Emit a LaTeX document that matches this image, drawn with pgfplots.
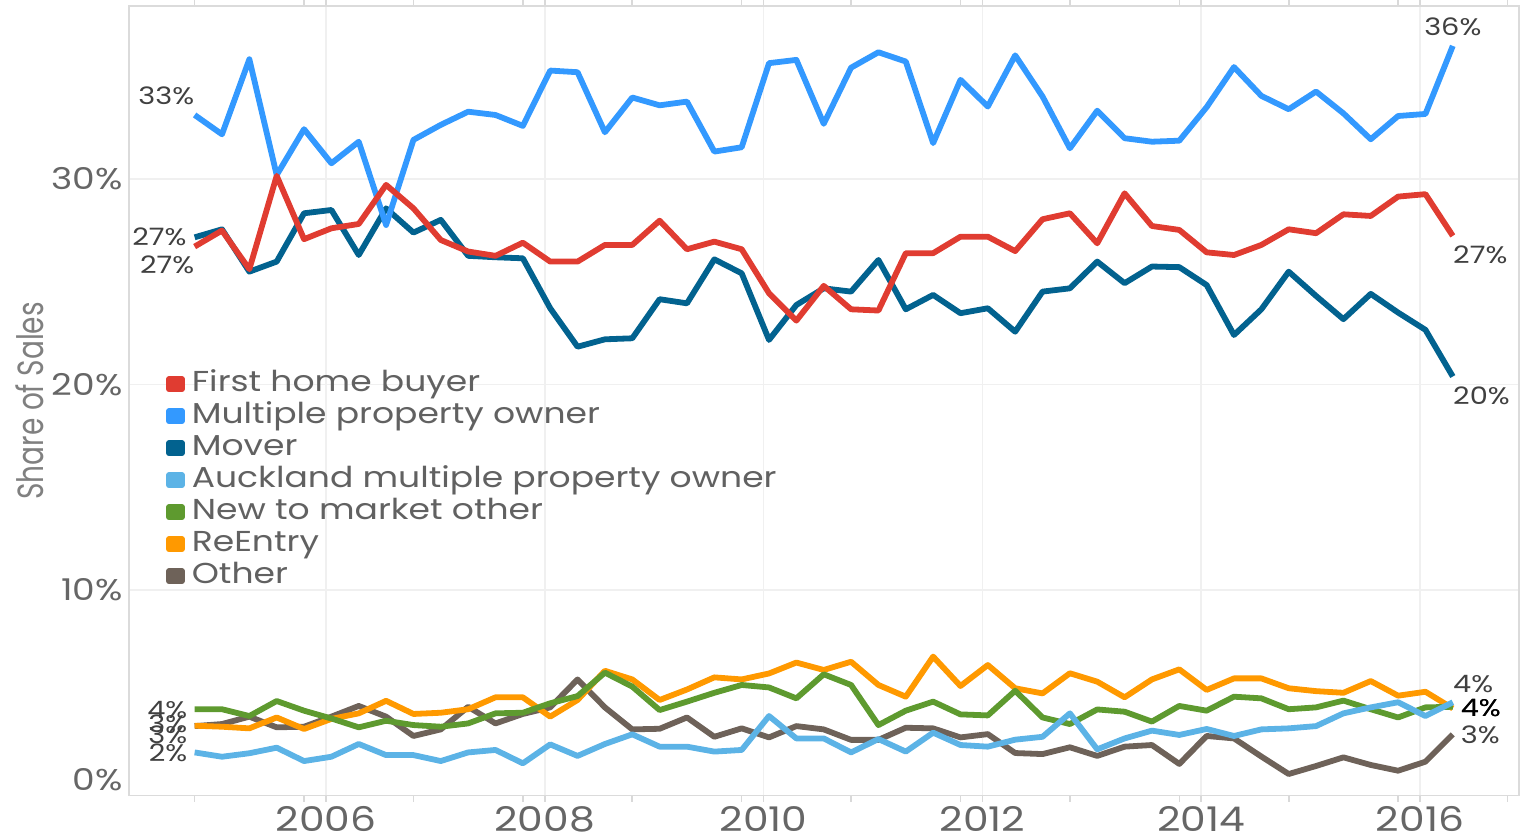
\documentclass[border=0pt]{standalone}
\usepackage{graphicx}
\usepackage{pgfplots}
\pgfplotsset{compat=1.18}
\usepackage{pgfplotstable}
\usepackage{fontspec}
\setmainfont{Poppins}[FakeStretch=1.2]
\newfontfamily\labelfont{Poppins}

\definecolor{cFHB}{HTML}{E03C31}
\definecolor{cMPO}{HTML}{3399FF}
\definecolor{cMOV}{HTML}{02628F}
\definecolor{cAKL}{HTML}{5CB3E6}
\definecolor{cNTM}{HTML}{5E9A2F}
\definecolor{cREE}{HTML}{FF9900}
\definecolor{cOTH}{HTML}{6E6259}

\tikzset{lbl/.style={font=\fontsize{12}{14}\selectfont, text=black!75, inner sep=0pt}}

\pgfplotstableread{
x       fhb   mpo   mov   akl  ntm  ree  oth
2004.80 26.70 33.10 27.15 2.10 4.20 3.40 3.38
2005.05 27.48 32.16 27.54 1.89 4.20 3.35 3.48
2005.30 25.60 35.81 25.48 2.06 3.87 3.27 3.84
2005.55 30.14 30.18 25.97 2.33 4.60 3.80 3.32
2005.80 27.06 32.41 28.32 1.68 4.13 3.24 3.35
2006.05 27.59 30.75 28.48 1.89 3.75 3.73 3.84
2006.30 27.80 31.80 26.29 2.51 3.32 4.00 4.36
2006.55 29.70 27.75 28.56 1.97 3.64 4.61 3.84
2006.80 28.56 31.89 27.38 1.97 3.43 3.97 2.90
2007.05 27.02 32.62 28.00 1.68 3.35 4.03 3.22
2007.30 26.46 33.26 26.25 2.10 3.51 4.20 4.32
2007.55 26.25 33.10 26.18 2.22 4.00 4.78 3.51
2007.80 26.89 32.57 26.13 1.57 4.03 4.78 3.97
2008.05 25.97 35.26 23.70 2.49 4.49 3.84 4.29
2008.30 25.97 35.18 21.83 1.93 4.84 4.65 5.65
2008.55 26.78 32.26 22.19 2.51 5.98 6.07 4.29
2008.80 26.78 33.95 22.24 2.98 5.30 5.65 3.22
2009.05 27.96 33.57 24.14 2.38 4.16 4.65 3.25
2009.30 26.57 33.75 23.94 2.38 4.57 5.16 3.80
2009.55 26.94 31.32 26.08 2.14 5.00 5.75 2.86
2009.80 26.57 31.53 25.40 2.22 5.38 5.65 3.27
2010.05 24.43 35.62 22.16 3.87 5.26 5.94 2.83
2010.30 23.10 35.78 23.86 2.78 4.73 6.47 3.38
2010.55 24.79 32.67 24.67 2.78 5.90 6.11 3.22
2010.80 23.65 35.40 24.51 2.10 5.38 6.51 2.71
2011.05 23.59 36.15 26.05 2.75 3.43 5.38 2.71
2011.30 26.38 35.70 23.65 2.14 4.13 4.81 3.30
2011.55 26.38 31.73 24.35 3.06 4.57 6.76 3.27
2011.80 27.18 34.81 23.46 2.46 3.95 5.33 2.83
2012.05 27.18 33.51 23.70 2.38 3.90 6.35 2.99
2012.30 26.48 36.00 22.56 2.72 5.10 5.22 2.07
2012.55 28.03 34.00 24.51 2.86 3.80 4.97 2.02
2012.80 28.32 31.48 24.67 4.00 3.48 5.95 2.35
2013.05 26.86 33.31 25.97 2.25 4.19 5.54 1.93
2013.30 29.29 31.97 24.92 2.78 4.08 4.78 2.38
2013.55 27.70 31.80 25.73 3.16 3.60 5.65 2.46
2013.80 27.51 31.85 25.70 2.95 4.36 6.14 1.54
2014.05 26.42 33.48 24.83 3.24 4.13 5.14 2.90
2014.30 26.29 35.43 22.40 2.90 4.81 5.70 2.78
2014.55 26.78 34.03 23.65 3.22 4.73 5.70 1.90
2014.80 27.54 33.38 25.48 3.27 4.20 5.22 1.05
2015.05 27.35 34.24 24.30 3.38 4.29 5.08 1.44
2015.30 28.27 33.18 23.17 4.00 4.62 5.00 1.86
2015.55 28.19 31.92 24.40 4.29 4.20 5.57 1.49
2015.80 29.13 33.05 23.49 4.54 3.80 4.86 1.21
2016.05 29.25 33.15 22.65 3.87 4.29 5.05 1.65
2016.30 27.22 36.46 20.38 4.54 4.32 4.24 2.98
}\datatable

\begin{document}
\begin{tikzpicture}
\begin{axis}[
  at={(0pt,0pt)}, anchor=south west,
  scale only axis, width=695pt, height=394.8pt,
  xmin=2004.2, xmax=2016.905, ymin=0, ymax=38.4,
  clip=false,
  axis line style={draw=black!14, line width=0.8pt},
  xtick={2006,2008,2010,2012,2014,2016},
  xticklabels={2006,2008,2010,2012,2014,2016},
  minor xtick={2004.8,2005.8,2006.8,2007.8,2008.8,2009.8,2010.8,2011.8,2012.8,2013.8,2014.8,2015.8,2016.8},
  ytick={10,20,30}, yticklabels={10\%,20\%,30\%},
  extra y ticks={0}, extra y tick labels={0\%},
  extra y tick style={yticklabel style={yshift=7.8pt}, ymajorgrids=false},
  xmajorgrids, ymajorgrids,
  grid style={draw=black!6, line width=0.8pt},
  tick align=outside, major tick length=3pt, minor tick length=3pt,
  xtick style={draw=black!15, line width=0.8pt},
  ytick style={draw=none},
  xticklabel style={font=\fontsize{17}{19}\selectfont, text=black!60, inner sep=0pt, text depth=0pt, yshift=-2.4pt},
  yticklabel style={font=\fontsize{15}{17}\selectfont, text=black!60, inner sep=0pt},
  ylabel={\scalebox{1}[1.3]{\labelfont Share of Sales}},
  ylabel style={at={(axis description cs:-0.0712,0.5)}, anchor=center,
    font=\fontsize{14}{16}\selectfont, text=black!50},
  legend style={at={(axis cs:2004.48,21.0)}, anchor=north west, draw=none, fill=none,
    font=\fontsize{14.4}{16}\selectfont, text=black!62, row sep=0pt,
    nodes={inner sep=1pt, text height=10.5pt, text depth=3.5pt},
    /tikz/every odd column/.append style={column sep=2.5pt}},
  legend cell align=left,
  legend image code/.code={\fill[#1] (0pt,-2.5pt) rectangle (6.5pt,2.5pt);},
  reverse legend,
  every axis plot/.append style={line width=2.9pt, line join=round},
]
\addplot[cOTH] table[x=x,y=oth]{\datatable}; \addlegendentry{Other}
\addplot[cREE] table[x=x,y=ree]{\datatable}; \addlegendentry{ReEntry}
\addplot[cNTM] table[x=x,y=ntm]{\datatable}; \addlegendentry{New to market other}
\addplot[cAKL] table[x=x,y=akl]{\datatable}; \addlegendentry{Auckland multiple property owner}
\addplot[cMOV] table[x=x,y=mov]{\datatable}; \addlegendentry{Mover}
\addplot[cMPO] table[x=x,y=mpo]{\datatable}; \addlegendentry{Multiple property owner}
\addplot[cFHB] table[x=x,y=fhb]{\datatable}; \addlegendentry{First home buyer}

\node[lbl, anchor=east] at (axis cs:2004.80,34.03) {33\%};
\node[lbl, anchor=east] at (axis cs:2004.73,27.17) {27\%};
\node[lbl, anchor=east] at (axis cs:2004.80,25.81) {27\%};
\node[lbl, anchor=east] at (axis cs:2004.736,2.95) {3\%};
\node[lbl, anchor=east] at (axis cs:2004.736,3.48) {3\%};
\node[lbl, anchor=east] at (axis cs:2004.736,4.16) {4\%};
\node[lbl, anchor=east] at (axis cs:2004.736,2.07) {2\%};

\node[lbl, anchor=center] at (axis cs:2016.30,37.38) {36\%};
\node[lbl, anchor=west] at (axis cs:2016.30,26.30) {27\%};
\node[lbl, anchor=west] at (axis cs:2016.30,19.44) {20\%};
\node[lbl, anchor=west] at (axis cs:2016.30,5.43) {4\%};
\node[lbl, anchor=west, text=black] at (axis cs:2016.37,4.26) {4\%};
\node[lbl, anchor=west, text=black] at (axis cs:2016.37,4.26) {4\%};
\node[lbl, anchor=west] at (axis cs:2016.37,2.95) {3\%};
\end{axis}
\pgfresetboundingbox
\path[use as bounding box] (-64.5pt,-20.7pt) rectangle (697pt,397.8pt);
\end{tikzpicture}
\end{document}
